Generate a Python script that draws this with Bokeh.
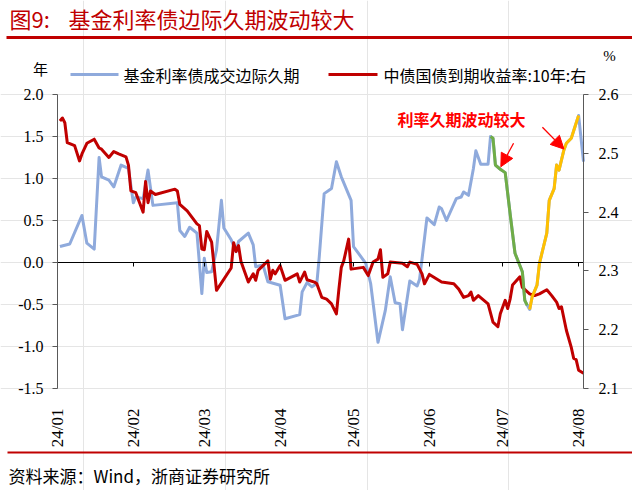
import math
import pandas as pd
from bokeh.plotting import figure
from bokeh.models import (Range1d, LinearAxis, DatetimeAxis, FixedTicker, NumeralTickFormatter,
                          DatetimeTickFormatter, Label, Arrow, NormalHead)
from bokeh.embed import file_html
from bokeh.resources import INLINE

# ---------------- data ----------------
DUR_DATES = [
    "2024-01-02", "2024-01-06", "2024-01-11", "2024-01-13", "2024-01-16", "2024-01-18",
    "2024-01-19", "2024-01-22", "2024-01-24", "2024-01-27", "2024-01-30", "2024-02-01",
    "2024-02-02", "2024-02-05", "2024-02-07", "2024-02-09", "2024-02-19", "2024-02-20",
    "2024-02-22", "2024-02-24", "2024-02-27", "2024-02-29", "2024-03-01", "2024-03-02",
    "2024-03-04", "2024-03-06", "2024-03-08", "2024-03-09", "2024-03-12", "2024-03-14",
    "2024-03-15", "2024-03-19", "2024-03-21", "2024-03-22", "2024-03-25", "2024-03-27",
    "2024-04-01", "2024-04-03", "2024-04-09", "2024-04-10", "2024-04-12", "2024-04-14",
    "2024-04-16", "2024-04-17", "2024-04-19", "2024-04-22", "2024-04-24", "2024-04-26",
    "2024-04-30", "2024-05-01", "2024-05-06", "2024-05-08", "2024-05-11", "2024-05-14",
    "2024-05-16", "2024-05-18", "2024-05-20", "2024-05-21", "2024-05-24", "2024-05-27",
    "2024-05-28", "2024-05-31", "2024-06-03", "2024-06-05", "2024-06-06", "2024-06-08",
    "2024-06-12", "2024-06-14", "2024-06-15", "2024-06-17", "2024-06-19", "2024-06-20",
    "2024-06-22", "2024-06-25", "2024-06-26", "2024-06-27", "2024-06-28", "2024-06-30",
    "2024-07-02", "2024-07-04", "2024-07-06", "2024-07-09", "2024-07-10", "2024-07-11",
    "2024-07-12", "2024-07-13", "2024-07-15", "2024-07-16", "2024-07-19", "2024-07-20",
    "2024-07-22", "2024-07-23", "2024-07-24", "2024-07-26", "2024-07-27", "2024-07-29",
    "2024-08-01", "2024-08-03",
]
DUR_VALUES = [
    0.19, 0.22, 0.56, 0.23, 0.16, 1.25,
    1.02, 0.98, 0.90, 1.16, 1.12, 0.71,
    0.78, 0.76, 1.10, 0.68, 0.71, 0.38,
    0.31, 0.42, 0.35, -0.37, 0.05, -0.12,
    -0.11, 0.15, 0.74, 0.41, 0.27, 0.13,
    0.25, 0.35, 0.21, -0.05, -0.03, -0.23,
    -0.27, -0.67, -0.62, -0.35, -0.24, -0.29,
    -0.25, 0.07, 0.82, 0.88, 1.20, 1.02,
    0.74, 0.19, -0.01, -0.25, -0.95, -0.57,
    -0.17, -0.48, -0.49, -0.80, -0.22, -0.28,
    -0.20, 0.53, 0.45, 0.66, 0.64, 0.50,
    0.76, 0.78, 0.84, 0.80, 1.12, 1.33,
    1.17, 1.17, 1.50, 1.48, 1.16, 1.11,
    1.07, 0.58, 0.11, -0.11, -0.45, -0.51,
    -0.56, -0.41, -0.27, -0.01, 0.35, 0.74,
    0.88, 1.16, 1.10, 1.34, 1.42, 1.48,
    1.75, 1.20,
]
GREEN_WINDOW = ("2024-06-26", "2024-07-11")
YELLOW_WINDOW = ("2024-07-12", "2024-08-01")

YIELD_DATES = [
    "2024-01-02", "2024-01-03", "2024-01-04", "2024-01-05", "2024-01-08", "2024-01-10",
    "2024-01-11", "2024-01-13", "2024-01-16", "2024-01-18", "2024-01-19", "2024-01-22",
    "2024-01-24", "2024-01-26", "2024-01-29", "2024-01-30", "2024-01-31", "2024-02-02",
    "2024-02-05", "2024-02-06", "2024-02-07", "2024-02-08", "2024-02-10", "2024-02-18",
    "2024-02-19", "2024-02-20", "2024-02-23", "2024-02-27", "2024-02-28", "2024-02-29",
    "2024-03-01", "2024-03-02", "2024-03-04", "2024-03-06", "2024-03-12", "2024-03-13",
    "2024-03-14", "2024-03-15", "2024-03-16", "2024-03-19", "2024-03-21", "2024-03-22",
    "2024-03-23", "2024-03-27", "2024-03-28", "2024-03-29", "2024-03-30", "2024-04-01",
    "2024-04-03", "2024-04-08", "2024-04-09", "2024-04-11", "2024-04-12", "2024-04-15",
    "2024-04-16", "2024-04-18", "2024-04-20", "2024-04-22", "2024-04-24", "2024-04-25",
    "2024-04-26", "2024-04-27", "2024-04-29", "2024-04-30", "2024-05-05", "2024-05-07",
    "2024-05-09", "2024-05-11", "2024-05-12", "2024-05-13", "2024-05-15", "2024-05-16",
    "2024-05-21", "2024-05-23", "2024-05-24", "2024-05-27", "2024-05-28", "2024-05-29",
    "2024-05-30", "2024-06-01", "2024-06-06", "2024-06-11", "2024-06-13", "2024-06-15",
    "2024-06-17", "2024-06-18", "2024-06-19", "2024-06-21", "2024-06-25", "2024-06-27",
    "2024-06-29", "2024-06-30", "2024-07-02", "2024-07-03", "2024-07-04", "2024-07-05",
    "2024-07-08", "2024-07-09", "2024-07-12", "2024-07-14", "2024-07-16", "2024-07-19",
    "2024-07-21", "2024-07-23", "2024-07-24", "2024-07-25", "2024-07-27", "2024-07-29",
    "2024-07-30", "2024-07-31", "2024-08-01", "2024-08-03",
]
YIELD_VALUES = [
    2.555, 2.560, 2.552, 2.518, 2.513, 2.487,
    2.499, 2.517, 2.524, 2.509, 2.507, 2.493,
    2.503, 2.499, 2.494, 2.480, 2.436, 2.433,
    2.400, 2.452, 2.416, 2.436, 2.430, 2.439,
    2.436, 2.413, 2.402, 2.380, 2.377, 2.337,
    2.336, 2.367, 2.349, 2.267, 2.305, 2.348,
    2.333, 2.343, 2.316, 2.281, 2.295, 2.284,
    2.301, 2.317, 2.286, 2.301, 2.295, 2.309,
    2.284, 2.295, 2.281, 2.298, 2.285, 2.281,
    2.278, 2.255, 2.252, 2.244, 2.227, 2.268,
    2.306, 2.317, 2.354, 2.303, 2.306, 2.292,
    2.315, 2.320, 2.336, 2.289, 2.295, 2.315,
    2.313, 2.307, 2.315, 2.311, 2.303, 2.295,
    2.278, 2.294, 2.281, 2.278, 2.269, 2.255,
    2.258, 2.264, 2.250, 2.258, 2.244, 2.213,
    2.205, 2.227, 2.250, 2.236, 2.252, 2.276,
    2.290, 2.272, 2.261, 2.258, 2.261, 2.268,
    2.258, 2.247, 2.236, 2.239, 2.199, 2.170,
    2.151, 2.149, 2.131, 2.126,
]

X_START, X_END = "2024-01-01", "2024-08-03"
MONTH_TICKS = ["2024-01-01", "2024-02-01", "2024-03-01", "2024-04-01",
               "2024-05-01", "2024-06-01", "2024-07-01", "2024-08-01"]
MONTH_LABELS = ["24/01", "24/02", "24/03", "24/04", "24/05", "24/06", "24/07", "24/08"]
LEFT_MIN, LEFT_MAX = -1.5, 2.0
RIGHT_MIN, RIGHT_MAX = 2.1, 2.6
LEFT_TICKS = [-1.5, -1.0, -0.5, 0.0, 0.5, 1.0, 1.5, 2.0]
RIGHT_TICKS = [2.1, 2.2, 2.3, 2.4, 2.5, 2.6]

TITLE_NO = "图9:"
TITLE = "基金利率债边际久期波动较大"
SERIES1 = "基金利率债成交边际久期"
SERIES2 = "中债国债到期收益率:10年:右"
LEFT_UNIT = "年"
RIGHT_UNIT = "%"
NOTE = "利率久期波动较大"
SOURCE = "资料来源：Wind，浙商证券研究所"

# annotation arrows: (tail date, tail value, head date, head value) on left axis
ARROW1 = ("2024-07-05 10:00", 1.42, "2024-06-30 05:00", 1.14)
ARROW2 = ("2024-07-17 05:00", 1.61, "2024-07-26 00:00", 1.35)

# ---------------- styling / layout ----------------
BLUE = "#8FAADC"
RED = "#C00000"
GREEN = "#70AD47"
YELLOW = "#FFC000"
AXIS = "#595959"
CJK = "Noto Sans CJK SC"
SERIF = "Liberation Serif"

W, H = 632, 490
PL, PR, PT, PB = 57, 583, 94, 388   # plot area in canvas pixels


def ms(s):
    return pd.Timestamp(s).value / 1e6


# ranges stretched so that the whole canvas is the frame and the plot area sits at PL..PR, PT..PB
x0, x1 = ms(X_START), ms(X_END)
xpp = (x1 - x0) / (PR - PL)
x_range = Range1d(x0 - PL * xpp, x1 + (W - PR) * xpp)
ly = (LEFT_MAX - LEFT_MIN) / (PB - PT)
y_range = Range1d(LEFT_MIN - (H - PB) * ly, LEFT_MAX + PT * ly)
ry = (RIGHT_MAX - RIGHT_MIN) / (PB - PT)
right_range = Range1d(RIGHT_MIN - (H - PB) * ry, RIGHT_MAX + PT * ry)

p = figure(width=W, height=H, title=None, x_range=x_range, y_range=y_range,
           x_axis_location=None, y_axis_location=None,
           output_backend="svg", toolbar_location=None,
           min_border_left=0, min_border_right=0, min_border_top=0, min_border_bottom=0)
p.extra_y_ranges = {"right": right_range}
p.outline_line_color = None
p.background_fill_color = "white"
p.border_fill_color = "white"


def style_y(ax, standoff):
    ax.axis_line_color = AXIS
    ax.major_tick_line_color = AXIS
    ax.major_tick_in = 0
    ax.major_tick_out = 5
    ax.minor_tick_line_color = None
    ax.major_label_standoff = standoff
    ax.major_label_text_font = SERIF
    ax.major_label_text_font_size = "16px"
    ax.major_label_text_color = "black"


left = LinearAxis(ticker=FixedTicker(ticks=LEFT_TICKS), formatter=NumeralTickFormatter(format="0.0"),
                  fixed_location=x0, bounds=(LEFT_MIN, LEFT_MAX))
style_y(left, 9)
p.add_layout(left, "left")

right = LinearAxis(y_range_name="right", ticker=FixedTicker(ticks=RIGHT_TICKS),
                   formatter=NumeralTickFormatter(format="0.0"),
                   fixed_location=x1, bounds=(RIGHT_MIN, RIGHT_MAX))
style_y(right, 10)
p.add_layout(right, "right")

fmt = "%y/%m"
month_ms = [ms(m) for m in MONTH_TICKS]

# month labels below the plot area
xlab = DatetimeAxis(ticker=FixedTicker(ticks=month_ms), fixed_location=LEFT_MIN,
                    formatter=DatetimeTickFormatter(microseconds=fmt, milliseconds=fmt, seconds=fmt,
                                                    minsec=fmt, minutes=fmt, hourmin=fmt, hours=fmt,
                                                    days=fmt, months=fmt, years=fmt))
xlab.major_label_overrides = {m: t for m, t in zip(month_ms, MONTH_LABELS)}
xlab.axis_line_color = None
xlab.major_tick_line_color = None
xlab.minor_tick_line_color = None
xlab.major_label_orientation = math.pi / 2
xlab.major_label_standoff = 14
xlab.major_label_text_font = SERIF
xlab.major_label_text_font_size = "17px"
xlab.major_label_text_color = "black"
p.add_layout(xlab, "below")

# category axis line at zero with month ticks
zero = DatetimeAxis(ticker=FixedTicker(ticks=month_ms), fixed_location=0, bounds=(x0, x1))
zero.major_label_overrides = {m: "" for m in month_ms}
zero.axis_line_color = "black"
zero.axis_line_width = 1
zero.major_tick_line_color = "black"
zero.major_tick_in = 0
zero.major_tick_out = 4
zero.minor_tick_line_color = None
zero.major_label_text_font_size = "1px"
zero.major_label_text_color = None
p.add_layout(zero, "below")

# series
dur_x = pd.to_datetime(DUR_DATES)
yld_x = pd.to_datetime(YIELD_DATES)
p.line(dur_x, DUR_VALUES, line_color=BLUE, line_width=3, line_join="round")
p.line(yld_x, YIELD_VALUES, y_range_name="right", line_color=RED, line_width=3, line_join="round")

dur_s = pd.Series(DUR_VALUES, index=dur_x)
g = dur_s[GREEN_WINDOW[0]:GREEN_WINDOW[1]]
yl = dur_s[YELLOW_WINDOW[0]:YELLOW_WINDOW[1]]
p.line(g.index, g.values, line_color=GREEN, line_width=3, line_join="round")
p.line(yl.index, yl.values, line_color=YELLOW, line_width=3, line_join="round")

for a in (ARROW1, ARROW2):
    p.add_layout(Arrow(end=NormalHead(size=13, fill_color="#FF0000", line_color="#FF0000"),
                       x_start=ms(a[0]), y_start=a[1], x_end=ms(a[2]), y_end=a[3],
                       line_color="#FF0000", line_width=1.3))


def lab(text, x, y, size, color="black", font=CJK, align="left", style="normal"):
    # x, y in canvas pixels from the top-left corner
    p.add_layout(Label(x=x, y=H - y, x_units="screen", y_units="screen", text=text,
                       text_font=font, text_font_size=size, text_color=color,
                       text_align=align, text_baseline="middle", text_font_style=style))


def hline(xa, xb, y, color, width):
    p.add_layout(Arrow(end=None, x_start=xa, y_start=H - y, x_end=xb, y_end=H - y,
                       start_units="screen", end_units="screen",
                       line_color=color, line_width=width))


# header
lab(TITLE_NO, 9, 17, "22px", RED)
lab(TITLE, 68, 17, "22px", RED)
hline(6, 632, 37, RED, 3)
lab(LEFT_UNIT, 40, 68, "15px", align="center")
hline(70, 118, 74, BLUE, 3)
lab(SERIES1, 123, 74, "16px")
hline(328, 377, 74, RED, 3)
lab(SERIES2, 383, 74, "16px")
lab(RIGHT_UNIT, 609, 55, "15px", font=SERIF, align="center")

# note
lab(NOTE, 397, 118, "16px", "#FF0000", style="bold")

# footer
hline(7, 632, 452, RED, 2)
lab(SOURCE, 8, 475, "17px")

open("out.html", "w").write(file_html(p, INLINE))
